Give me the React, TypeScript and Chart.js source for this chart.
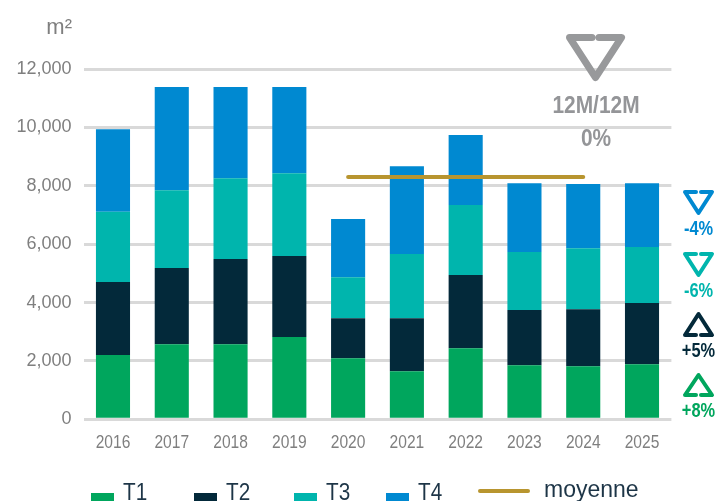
import React, { useEffect, useRef } from "react";
import { Chart, registerables } from "chart.js";
Chart.register(...registerables);

const years = ["2016", "2017", "2018", "2019", "2020", "2021", "2022", "2023", "2024", "2025"];
const t1 = [2200, 2570, 2570, 2820, 2090, 1650, 2430, 1850, 1820, 1890];
const t2 = [2500, 2610, 2920, 2770, 1370, 1810, 2510, 1890, 1950, 2090];
const t3 = [2410, 2670, 2770, 2840, 1410, 2200, 2400, 1990, 2090, 1920];
const t4 = [2830, 3530, 3120, 2950, 1990, 3010, 2400, 2360, 2200, 2190];
const moyenne = [null, null, null, null, 8300, 8300, 8300, 8300, 8300, null];

const seriesLabels = ["T1", "T2", "T3", "T4", "moyenne"];
const seriesColors = ["#00A65D", "#03293A", "#00B5AD", "#0089D1", "#B8952F"];

// variation indicators (top to bottom: T4, T3, T2, T1)
const changeTexts = ["-4%", "-6%", "+5%", "+8%"];
const changeSeries = [3, 2, 1, 0];
const headlineTexts = ["12M/12M", "0%"];
const unitLabel = "m²";

const SANS = '"Liberation Sans", Arial, sans-serif';

function drawTri(ctx, cx, yBase, yTip, halfW, gapHalf, lw, color) {
  ctx.save();
  ctx.strokeStyle = color;
  ctx.lineWidth = lw;
  ctx.lineJoin = "round";
  ctx.lineCap = "round";
  ctx.beginPath();
  ctx.moveTo(cx - gapHalf, yBase);
  ctx.lineTo(cx - halfW, yBase);
  ctx.lineTo(cx, yTip);
  ctx.lineTo(cx + halfW, yBase);
  ctx.lineTo(cx + gapHalf, yBase);
  ctx.stroke();
  ctx.restore();
}

function fillNarrow(ctx, text, x, y, sx) {
  ctx.save();
  ctx.translate(x, y);
  ctx.scale(sx, 1);
  ctx.fillText(text, 0, 0);
  ctx.restore();
}

const overlayPlugin = {
  id: "overlay",
  afterDraw(chart) {
    const ctx = chart.ctx;
    ctx.save();
    ctx.textBaseline = "alphabetic";

    // x category labels (condensed)
    const xs = chart.scales.x;
    ctx.fillStyle = "#7f7f7f";
    ctx.font = "19px " + SANS;
    ctx.textAlign = "center";
    years.forEach((y, i) => {
      fillNarrow(ctx, y, xs.getPixelForTick(i), 448, 0.82);
    });

    // unit
    ctx.fillStyle = "#7f7f7f";
    ctx.font = "22px " + SANS;
    ctx.textAlign = "right";
    ctx.fillText(unitLabel, 72, 34);

    // headline
    drawTri(ctx, 595.5, 37.5, 77.5, 26, 3.5, 7, "#98999b");
    ctx.fillStyle = "#949598";
    ctx.font = "bold 24px " + SANS;
    ctx.textAlign = "center";
    fillNarrow(ctx, headlineTexts[0], 596, 113, 0.87);
    fillNarrow(ctx, headlineTexts[1], 596, 146, 0.87);

    // side indicators
    const rows = [
      { base: 192, tip: 213, text: 235 },
      { base: 254, tip: 275, text: 297 },
      { base: 335, tip: 314, text: 357 },
      { base: 395, tip: 375, text: 417 },
    ];
    rows.forEach((r, i) => {
      const col = seriesColors[changeSeries[i]];
      drawTri(ctx, 698.5, r.base, r.tip, 13.5, 2.5, 4, col);
      ctx.fillStyle = col;
      ctx.font = "bold 20px " + SANS;
      ctx.textAlign = "center";
      fillNarrow(ctx, changeTexts[i], 698.5, r.text, 0.82);
    });

    // legend
    const legendX = [91, 194, 294, 386, 478];
    ctx.textAlign = "left";
    ctx.font = "23px " + SANS;
    seriesLabels.forEach((lab, i) => {
      const x = legendX[i];
      if (i < 4) {
        ctx.fillStyle = seriesColors[i];
        ctx.fillRect(x, 493, 23, 23);
        ctx.fillStyle = "#1d3547";
        fillNarrow(ctx, lab, x + 32, 500, 0.9);
      } else {
        ctx.strokeStyle = seriesColors[i];
        ctx.lineWidth = 4;
        ctx.lineCap = "round";
        ctx.beginPath();
        ctx.moveTo(x + 2, 491);
        ctx.lineTo(x + 50, 491);
        ctx.stroke();
        ctx.fillStyle = "#1d3547";
        ctx.fillText(lab, x + 66, 497);
      }
    });
    ctx.restore();
  },
};

export default function App() {
  const ref = useRef(null);
  useEffect(() => {
    const barDs = [t1, t2, t3, t4].map((d, i) => ({
      type: "bar",
      label: seriesLabels[i],
      data: d,
      backgroundColor: seriesColors[i],
      stack: "bars",
      order: 1,
      barPercentage: 0.58,
      categoryPercentage: 1,
    }));
    const chart = new Chart(ref.current, {
      type: "bar",
      data: {
        labels: years,
        datasets: [
          ...barDs,
          {
            type: "line",
            label: seriesLabels[4],
            data: moyenne,
            borderColor: seriesColors[4],
            borderWidth: 4,
            borderCapStyle: "round",
            pointRadius: 0,
            fill: false,
            stack: "avg",
            order: 0,
          },
        ],
      },
      options: {
        animation: false,
        responsive: false,
        maintainAspectRatio: false,
        layout: { padding: { top: 69, right: 44.6, bottom: 36.7, left: 0 } },
        plugins: { legend: { display: false }, tooltip: { enabled: false } },
        scales: {
          x: {
            stacked: true,
            grid: { display: false },
            border: { display: false },
            ticks: { display: false },
            afterFit: (s) => {
              s.height = 45;
            },
          },
          y: {
            stacked: true,
            min: 0,
            max: 12000,
            ticks: {
              stepSize: 2000,
              color: "#7f7f7f",
              font: { family: SANS, size: 18 },
              padding: 12,
              callback: (v) => Number(v).toLocaleString("en-US"),
            },
            grid: { color: "#d9d9d9", lineWidth: 3, drawTicks: false },
            border: { display: false },
            afterFit: (s) => {
              s.width = 83.6;
            },
          },
        },
      },
      plugins: [overlayPlugin],
    });
    return () => chart.destroy();
  }, []);
  return (
    <div style={{ position: "fixed", left: 0, top: 0, width: 716, height: 501, overflow: "hidden", background: "#fff" }}>
      <canvas ref={ref} width={716} height={501} style={{ display: "block" }} />
    </div>
  );
}
